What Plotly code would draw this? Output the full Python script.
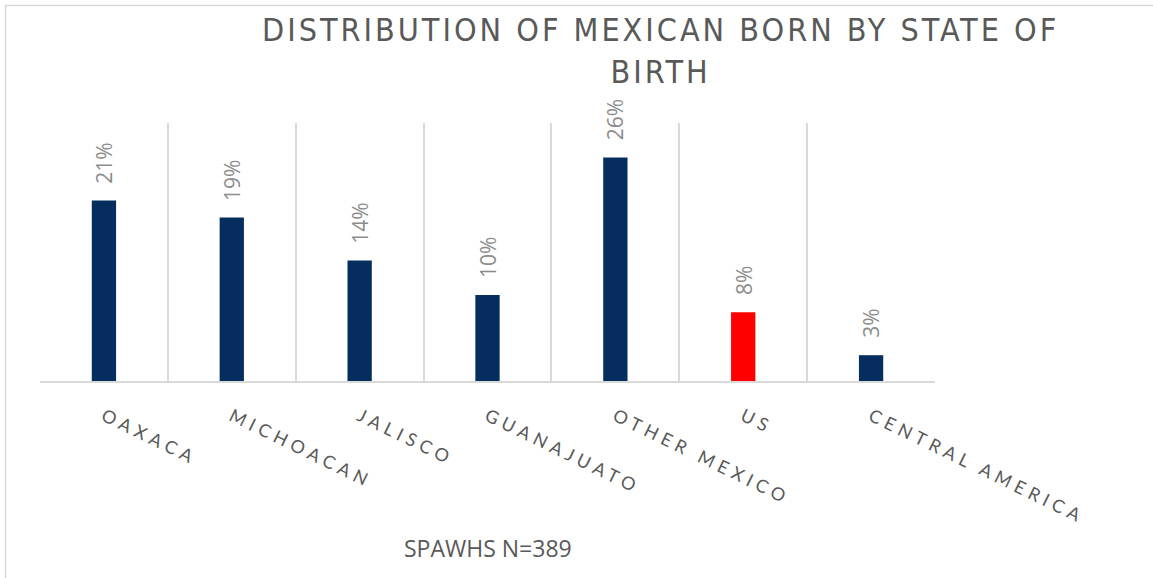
import plotly.graph_objects as go

categories = ["OAXACA", "MICHOACAN", "JALISCO", "GUANAJUATO", "OTHER MEXICO", "US", "CENTRAL AMERICA"]
values = [0.21, 0.19, 0.14, 0.10, 0.26, 0.08, 0.03]
value_labels = ["21%", "19%", "14%", "10%", "26%", "8%", "3%"]
bar_colors = ["#052d5e", "#052d5e", "#052d5e", "#052d5e", "#052d5e", "#ff0000", "#052d5e"]
title_text = "DISTRIBUTION OF MEXICAN BORN BY STATE OF<br>BIRTH"
note_text = "SPAWHS N=389"

W, H = 1153, 578
L, R, T, B = 40, 218, 123, 197
pw, ph = W - L - R, H - T - B

def px_x(p):
    return (p - L) / pw

def px_y(p):
    return (H - B - p) / ph

fig = go.Figure()
fig.add_trace(go.Bar(
    x=categories, y=values,
    marker=dict(color=bar_colors, line=dict(width=0)),
    hoverinfo="skip",
))

annotations = []
for c, v, t in zip(categories, values, value_labels):
    annotations.append(dict(
        x=c, y=v, xref="x", yref="y", text=t, showarrow=False,
        textangle=-90, yanchor="bottom", xanchor="center", yshift=15,
        font=dict(family="Open Sans, Noto Sans, sans-serif", size=21, color="#8c8c8c"),
    ))
annotations.append(dict(
    x=px_x(488), y=px_y(548), xref="paper", yref="paper",
    text=note_text, showarrow=False, xanchor="center", yanchor="middle",
    font=dict(family="Open Sans, Noto Sans, sans-serif", size=23, color="#595959"),
))
annotations.append(dict(
    x=px_x(660), y=px_y(9), xref="paper", yref="paper",
    text=title_text, showarrow=False, xanchor="center", yanchor="top", align="center",
    font=dict(family="Liberation Sans Narrow, DejaVu Sans Condensed, Roboto Condensed, Arial Narrow, sans-serif",
              size=32, color="#595959"),
))

fig.update_layout(
    width=W, height=H,
    margin=dict(l=L, r=R, t=T, b=B),
    paper_bgcolor="white", plot_bgcolor="white",
    showlegend=False,
    bargap=0.81,
    xaxis=dict(
        type="category", tickson="boundaries", showgrid=True,
        gridcolor="#d9d9d9", gridwidth=1.5,
        showline=True, linecolor="#d9d9d9", linewidth=2,
        ticks="", tickangle=26, ticklabelstandoff=16,
        tickfont=dict(family="Lato, Open Sans, sans-serif", size=18, color="#595959"),
        fixedrange=True,
    ),
    yaxis=dict(
        range=[0, 0.30], showgrid=False, zeroline=False, showticklabels=False,
        showline=False, fixedrange=True,
    ),
    annotations=annotations,
    shapes=[dict(
        type="rect", xref="paper", yref="paper",
        x0=px_x(5.5), x1=px_x(1200),
        y0=px_y(640), y1=px_y(5.5),
        line=dict(color="#d9d9d9", width=1.5), fillcolor="rgba(0,0,0,0)", layer="below",
    )],
)

post = """
document.body.style.margin = '0';
var gd = document.getElementById('{plot_id}');
function ls(){
  gd.querySelectorAll('.xtick text').forEach(function(t){ t.style.letterSpacing = '5px'; });
  gd.querySelectorAll('.annotation-text').forEach(function(t){
    if (t.textContent.indexOf('DISTRIBUTION') >= 0) { t.style.letterSpacing = '3px'; }
  });
}
ls();
gd.on('plotly_afterplot', ls);
"""

fig.write_html("out.html", post_script=post, config={"displayModeBar": False})
